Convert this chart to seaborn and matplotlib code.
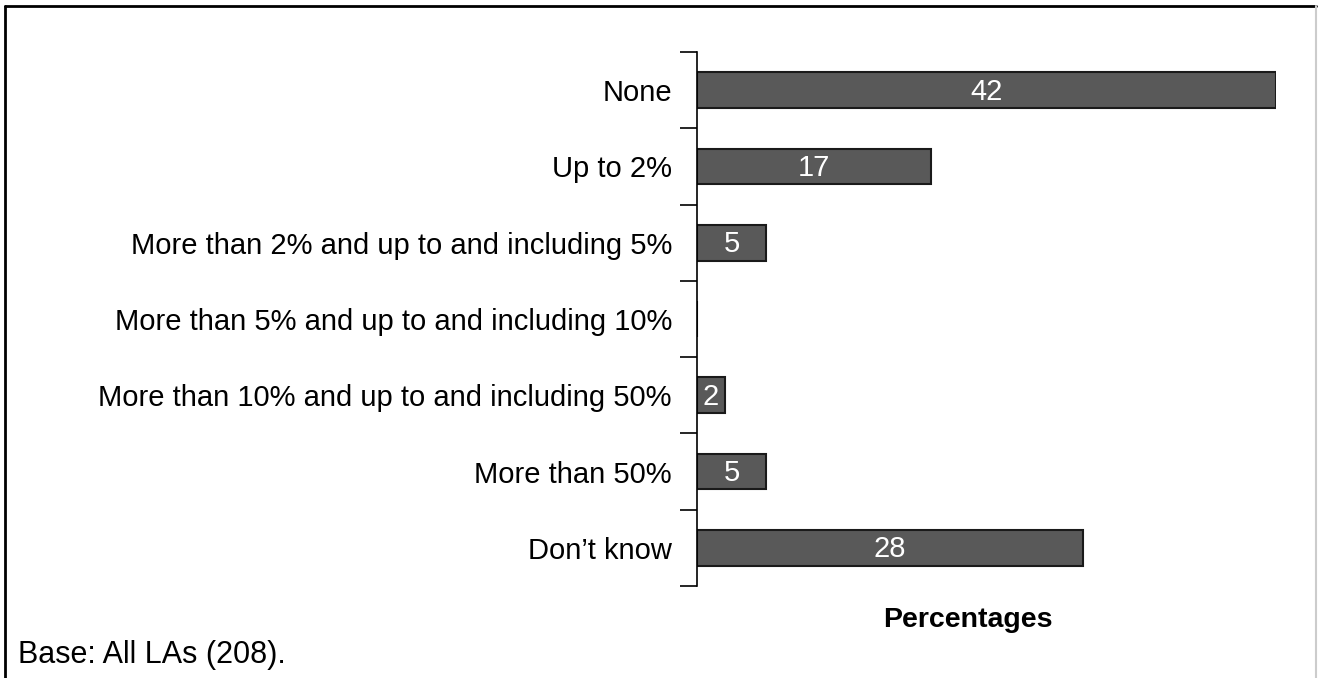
import matplotlib.pyplot as plt
import seaborn as sns
import pandas as pd
from matplotlib.lines import Line2D

categories = [
    "None",
    "Up to 2%",
    "More than 2% and up to and including 5%",
    "More than 5% and up to and including 10%",
    "More than 10% and up to and including 50%",
    "More than 50%",
    "Don\u2019t know",
]
values = [42, 17, 5, 0, 2, 5, 28]

df = pd.DataFrame({"cat": categories, "pct": values})

sns.set_style("white")
plt.rcParams["font.family"] = ["Liberation Sans", "DejaVu Sans"]
plt.rcParams["text.color"] = "black"
plt.rcParams["ytick.labelcolor"] = "black"

fig = plt.figure(figsize=(13.18, 6.78), dpi=100)
ax = fig.add_axes([697 / 1318, 1 - 586 / 678, (1275.5 - 697) / 1318, (586 - 52) / 678])

sns.barplot(data=df, x="pct", y="cat", orient="h", color="#595959",
            saturation=1, width=0.47, edgecolor="#1a1a1a", linewidth=1.5, ax=ax)

# value labels inside the bars (skip zero)
for i, v in enumerate(values):
    if v > 0:
        ax.text(v / 2, i + 0.02, str(v), color="white", ha="center", va="center", fontsize=21)

ax.set_xlim(0, 42)
ax.set_ylim(6.5, -0.5)
ax.set_xticks([])
ax.set_ylabel("")
ax.set_xlabel("")

for s in ["top", "right", "bottom"]:
    ax.spines[s].set_visible(False)
ax.spines["left"].set_linewidth(1.2)
ax.spines["left"].set_color("black")

ax.set_yticks(range(len(categories)))
ax.set_yticklabels(categories, fontsize=21, color="black")
ax.tick_params(axis="y", which="major", length=0, pad=18)
ax.set_yticks([i - 0.5 for i in range(len(categories) + 1)], minor=True)
ax.tick_params(axis="y", which="minor", length=12, width=1.2, color="black", left=True)

fig.text(968 / 1318, 1 - 620 / 678, "Percentages", fontsize=20.5, fontweight="bold",
         va="center", ha="center")
fig.text(18 / 1318, 1 - 655 / 678, "Base: All LAs (208).", fontsize=22, va="center", ha="left")

# frame around the chart
fig.add_artist(Line2D([5 / 1318, 5 / 1318], [0, 1 - 6 / 678], color="black", lw=2, transform=fig.transFigure))
fig.add_artist(Line2D([5 / 1318, 1316 / 1318], [1 - 6 / 678, 1 - 6 / 678], color="black", lw=2, transform=fig.transFigure))
fig.add_artist(Line2D([1316 / 1318, 1316 / 1318], [0, 1 - 6 / 678], color="#cccccc", lw=1.5, transform=fig.transFigure))

fig.savefig("out.png", dpi=100)
